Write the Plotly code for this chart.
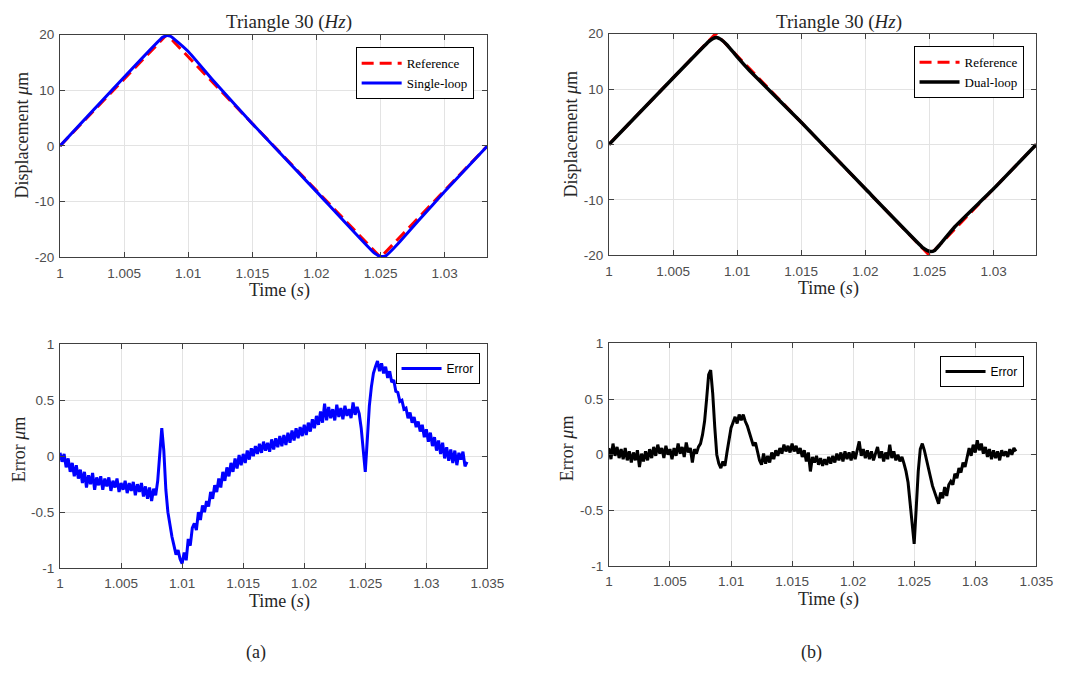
import plotly.graph_objects as go

# ---------------- data ----------------
# reference triangle (vertices)
ref_t = [1.0, 1.008333, 1.025, 1.033333]
ref_y = [0.0, 20.0, -20.0, 0.0]

single_t = [1.0, 1.0080, 1.0083, 1.0086, 1.0090, 1.0100, 1.0120, 1.0150, 1.0200,
            1.0245, 1.0250, 1.0254, 1.0258, 1.0265, 1.0280, 1.0300, 1.033333]
single_y = [0.0, 19.5, 19.8, 19.7, 19.0, 16.95, 11.6, 4.0, -8.2,
            -19.2, -19.85, -19.75, -18.9, -17.2, -13.3, -8.2, 0.0]

# dual-loop measured displacement
dual_t = [1.0, 1.0078, 1.0081, 1.0084, 1.0087, 1.0092, 1.0100, 1.0110, 1.0150, 1.0200,
          1.0245, 1.0248, 1.0251, 1.0254, 1.0258, 1.0270, 1.0300, 1.033333]
dual_y = [0.0, 18.6, 19.1, 19.3, 19.0, 18.0, 15.8, 13.25, 4.0, -8.0,
          -18.65, -19.1, -19.3, -19.1, -18.1, -14.8, -8.0, 0.0]

# tracking error, sampled every SAMPLE_DT starting at T0
T0 = 1.0
SAMPLE_DT = 1 / 6000
single_err = [
    0.03, -0.05, 0.02, -0.10, -0.02, -0.14, -0.06, -0.18, -0.08, -0.20, -0.12,
    -0.24, -0.14, -0.28, -0.17, -0.25, -0.15, -0.30, -0.19, -0.26, -0.18,
    -0.30, -0.20, -0.27, -0.19, -0.31, -0.22, -0.28, -0.20, -0.32, -0.24,
    -0.30, -0.22, -0.33, -0.24, -0.31, -0.23, -0.35, -0.25, -0.32, -0.24,
    -0.36, -0.27, -0.38, -0.28, -0.40, -0.29, -0.35, -0.22, 0.00, 0.25,
    0.05, -0.30, -0.50, -0.62, -0.72, -0.80, -0.88, -0.84, -0.92, -0.96,
    -0.86, -0.93, -0.74, -0.80, -0.64, -0.60, -0.66, -0.50, -0.57, -0.44,
    -0.50, -0.40, -0.45, -0.32, -0.38, -0.26, -0.32, -0.20, -0.28, -0.14,
    -0.22, -0.10, -0.18, -0.06, -0.14, -0.02, -0.11, 0.01, -0.08, 0.02,
    -0.06, 0.05, -0.03, 0.07, 0.00, 0.09, 0.02, 0.11, 0.03, 0.13,
    0.05, 0.12, 0.04, 0.15, 0.06, 0.16, 0.08, 0.18, 0.09, 0.19,
    0.10, 0.21, 0.12, 0.23, 0.14, 0.25, 0.16, 0.26, 0.18, 0.28,
    0.19, 0.30, 0.22, 0.33, 0.25, 0.36, 0.28, 0.40, 0.30, 0.47,
    0.32, 0.44, 0.34, 0.42, 0.32, 0.46, 0.35, 0.43, 0.33, 0.45,
    0.36, 0.42, 0.34, 0.48, 0.37, 0.44, 0.38, 0.25, 0.05, -0.14,
    0.15, 0.45, 0.62, 0.74, 0.80, 0.85, 0.76, 0.83, 0.74, 0.80,
    0.70, 0.76, 0.66, 0.68, 0.58, 0.57, 0.49, 0.50, 0.42, 0.43,
    0.34, 0.39, 0.30, 0.35, 0.26, 0.31, 0.22, 0.28, 0.17, 0.24,
    0.13, 0.21, 0.09, 0.17, 0.05, 0.14, 0.02, 0.12, -0.02, 0.08,
    -0.04, 0.06, -0.06, 0.05, -0.08, 0.03, -0.03, 0.04, -0.09, -0.05,
]
dual_err = [
    0.06, -0.04, 0.10, -0.01, 0.07, -0.03, 0.05, -0.04, 0.06, -0.05, 0.03,
    -0.07, 0.02, -0.05, 0.04, -0.11, 0.01, -0.06, 0.03, -0.05, 0.05,
    -0.03, 0.07, -0.01, 0.09, 0.01, 0.06, -0.03, 0.08, 0.00, 0.05,
    -0.04, 0.06, -0.01, 0.10, 0.01, 0.07, -0.02, 0.11, 0.02, 0.06,
    -0.07, 0.05, 0.01, 0.07, 0.10, 0.18, 0.30, 0.50, 0.72, 0.76,
    0.55, 0.25, 0.00, -0.08, -0.12, -0.06, -0.10, 0.02, 0.15, 0.24,
    0.29, 0.34, 0.28, 0.36, 0.31, 0.36, 0.30, 0.26, 0.20, 0.14,
    0.08, 0.11, 0.02, -0.05, -0.09, 0.01, -0.08, -0.01, -0.07, 0.02,
    -0.04, 0.04, -0.01, 0.06, 0.01, 0.09, 0.03, 0.08, 0.02, 0.10,
    0.03, 0.08, 0.01, 0.06, -0.02, 0.04, -0.06, 0.02, -0.15, -0.02,
    -0.07, -0.01, -0.09, -0.03, -0.10, -0.04, -0.09, -0.02, -0.08, -0.01,
    -0.07, 0.01, -0.05, 0.02, -0.06, 0.03, -0.04, 0.02, -0.05, 0.03,
    -0.04, 0.04, 0.12, -0.01, 0.05, -0.03, 0.04, -0.04, 0.03, -0.05,
    0.02, 0.07, -0.03, 0.03, -0.06, 0.02, -0.04, 0.09, -0.03, 0.03,
    -0.05, 0.00, -0.06, -0.02, -0.08, -0.15, -0.25, -0.42, -0.62, -0.80,
    -0.48, -0.15, 0.05, 0.10, 0.04, -0.05, -0.12, -0.20, -0.28, -0.34,
    -0.38, -0.44, -0.34, -0.39, -0.29, -0.37, -0.27, -0.24, -0.27, -0.17,
    -0.21, -0.12, -0.16, -0.07, -0.11, -0.02, 0.06, -0.01, 0.09, 0.02,
    0.13, 0.04, 0.10, 0.01, 0.07, -0.02, 0.05, -0.04, 0.04, -0.03,
    0.03, -0.05, 0.04, -0.01, 0.03, -0.02, 0.05, 0.00, 0.06, 0.03,
]

top_xticks = [1, 1.005, 1.01, 1.015, 1.02, 1.025, 1.03]
top_xlabels = ["1", "1.005", "1.01", "1.015", "1.02", "1.025", "1.03"]
bot_xticks = [1, 1.005, 1.01, 1.015, 1.02, 1.025, 1.03, 1.035]
bot_xlabels = ["1", "1.005", "1.01", "1.015", "1.02", "1.025", "1.03", "1.035"]
top_yticks = [-20, -10, 0, 10, 20]
bot_yticks = [-1, -0.5, 0, 0.5, 1]
bot_ylabels = ["-1", "-0.5", "0", "0.5", "1"]

# ---------------- figure ----------------
# page body margin is 8px; figure is sized so page == window
OX, OY = 8, 8
W, H = 1075 - 2 * OX, 673 - 2 * OY
SERIF = "Liberation Serif, Times New Roman, serif"
SANS = "Liberation Sans, Arial, sans-serif"
TXT = "#262626"
TICK = "#4d4d4d"

fig = go.Figure()

fig.add_trace(go.Scatter(x=ref_t, y=ref_y, mode="lines", name="Reference",
                         line=dict(color="#ff0000", width=3, dash="12px,6px"),
                         xaxis="x", yaxis="y", legend="legend"))
fig.add_trace(go.Scatter(x=single_t, y=single_y, mode="lines", name="Single-loop",
                         line=dict(color="#0000ff", width=3, shape="spline", smoothing=0.4),
                         xaxis="x", yaxis="y", legend="legend"))
fig.add_trace(go.Scatter(x=ref_t, y=ref_y, mode="lines", name="Reference",
                         line=dict(color="#ff0000", width=3, dash="12px,6px"),
                         xaxis="x2", yaxis="y2", legend="legend2"))
fig.add_trace(go.Scatter(x=dual_t, y=dual_y, mode="lines", name="Dual-loop",
                         line=dict(color="#000000", width=3.5, shape="spline", smoothing=0.4),
                         xaxis="x2", yaxis="y2", legend="legend2"))
fig.add_trace(go.Scatter(x0=T0, dx=SAMPLE_DT, y=single_err, mode="lines", name="Error",
                         line=dict(color="#0000ff", width=3),
                         xaxis="x3", yaxis="y3", legend="legend3"))
fig.add_trace(go.Scatter(x0=T0, dx=SAMPLE_DT, y=dual_err, mode="lines", name="Error",
                         line=dict(color="#000000", width=3),
                         xaxis="x4", yaxis="y4", legend="legend4"))


def px_x(p):
    return (p - OX) / W


def px_y(p):
    return 1 - (p - OY) / H


axis_common = dict(showline=True, linecolor="#404040", linewidth=1, mirror="ticks",
                   ticks="inside", ticklen=5, tickcolor="#404040",
                   showgrid=True, gridcolor="#e3e3e3", gridwidth=1, zeroline=False,
                   tickfont=dict(family=SANS, size=13.5, color=TICK))

panels = {
    "1": (57, 493, 28, 256),
    "2": (617, 1053, 27, 254),
    "3": (57, 493, 345, 574),
    "4": (617, 1053, 344, 572),
}

layout = dict(width=W, height=H, margin=dict(l=0, r=0, t=0, b=0),
              paper_bgcolor="white", plot_bgcolor="white", autosize=False)

for k, (l, r, t, b) in panels.items():
    xa = "xaxis" if k == "1" else "xaxis" + k
    ya = "yaxis" if k == "1" else "yaxis" + k
    ya_ref = "y" if k == "1" else "y" + k
    xa_ref = "x" if k == "1" else "x" + k
    top = k in ("1", "2")
    layout[xa] = dict(axis_common, domain=[px_x(l), px_x(r)], anchor=ya_ref,
                      range=[1, 1.033333] if top else [1, 1.035],
                      tickvals=top_xticks if top else bot_xticks,
                      ticktext=top_xlabels if top else bot_xlabels,
                      ticklabelstandoff=3)
    layout[ya] = dict(axis_common, domain=[px_y(b), px_y(t)], anchor=xa_ref,
                      range=[-20, 20] if top else [-1, 1],
                      tickvals=top_yticks if top else bot_yticks,
                      ticktext=[str(v) for v in top_yticks] if top else bot_ylabels,
                      ticklabelstandoff=2)

legend_common = dict(bgcolor="white", bordercolor="#000000", borderwidth=1,
                     xanchor="right", yanchor="top", xref="paper", yref="paper",
                     itemwidth=40, tracegroupgap=0)
layout["legend"] = dict(legend_common, x=px_x(479), y=px_y(41),
                        font=dict(family=SERIF, size=13, color="#000"))
layout["legend2"] = dict(legend_common, x=px_x(1040), y=px_y(40),
                         font=dict(family=SERIF, size=13, color="#000"))
layout["legend3"] = dict(legend_common, x=px_x(485), y=px_y(354),
                         font=dict(family=SANS, size=12, color="#000"))
layout["legend4"] = dict(legend_common, x=px_x(1040), y=px_y(357),
                         font=dict(family=SANS, size=12, color="#000"))

fig.update_layout(**layout)

ann = []


def text(x, y, s, size=18, angle=0, family=SERIF):
    ann.append(dict(x=px_x(x), y=px_y(y), xref="paper", yref="paper", text=s,
                    showarrow=False, textangle=angle, xanchor="center", yanchor="middle",
                    font=dict(family=family, size=size, color=TXT)))


text(291, 15, "Triangle 30 (<i>Hz</i>)", size=19)
text(852, 15, "Triangle 30 (<i>Hz</i>)", size=19)
text(281, 290, "Time (<i>s</i>)")
text(841, 288, "Time (<i>s</i>)")
text(281, 608, "Time (<i>s</i>)")
text(841, 606, "Time (<i>s</i>)")
text(18.5, 131, "Displacement <i>μ</i>m", angle=-90)
text(578.5, 130, "Displacement <i>μ</i>m", angle=-90)
text(14.5, 452, "Error <i>μ</i>m", angle=-90)
text(574.5, 451, "Error <i>μ</i>m", angle=-90)
text(257, 660, "(a)", size=18)
text(824, 660, "(b)", size=18)

fig.update_layout(annotations=ann)
fig.write_html("out.html")
